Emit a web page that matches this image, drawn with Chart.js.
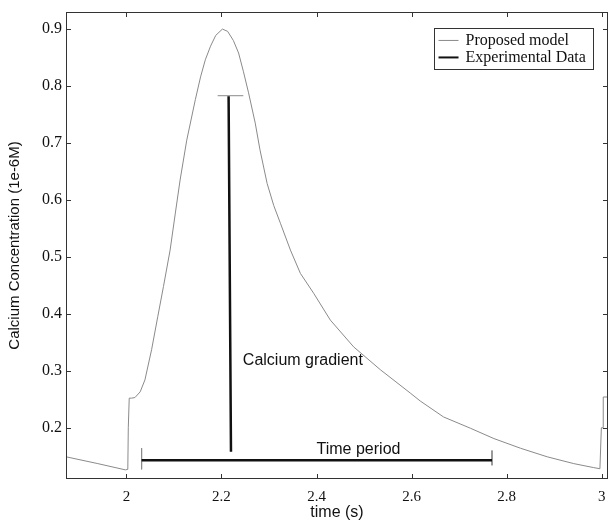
<!DOCTYPE html>
<html>
<head>
<meta charset="utf-8">
<script src="https://cdn.jsdelivr.net/npm/chart.js@4.4.0/dist/chart.umd.min.js"></script>
<style>
  html, body { margin: 0; padding: 0; background: #fff; }
  canvas { display: block; }
</style>
</head>
<body>
<canvas id="myChart" width="613" height="529"></canvas>
<script>
// model curve (time in s, calcium in 1e-6 M)
var modelTime = [1.873, 1.94, 1.998, 2.003, 2.004, 2.006, 2.011, 2.018, 2.029, 2.039, 2.053, 2.066, 2.078,
  2.092, 2.103, 2.113, 2.127, 2.145, 2.156, 2.166, 2.177, 2.188, 2.202, 2.213, 2.225, 2.236, 2.246,
  2.257, 2.271, 2.281, 2.296, 2.310, 2.324, 2.345, 2.366, 2.394, 2.429, 2.478, 2.534, 2.597, 2.618,
  2.667, 2.724, 2.773, 2.829, 2.885, 2.941, 2.983, 2.996, 2.999, 3.003, 3.003, 3.013];
var modelCa = [0.149, 0.137, 0.126, 0.127, 0.200, 0.252, 0.252, 0.253, 0.263, 0.284, 0.337, 0.395, 0.448,
  0.512, 0.577, 0.635, 0.705, 0.776, 0.816, 0.846, 0.870, 0.889, 0.900, 0.896, 0.880, 0.858, 0.826,
  0.788, 0.735, 0.688, 0.629, 0.590, 0.559, 0.512, 0.471, 0.436, 0.389, 0.342, 0.302, 0.261, 0.247,
  0.219, 0.199, 0.181, 0.164, 0.149, 0.137, 0.130, 0.128, 0.200, 0.200, 0.254, 0.254];

// experimental data: calcium gradient (vertical) and time period (horizontal)
var gradientTime = [2.215, 2.220];
var gradientCa = [0.782, 0.158];
var periodTime = [2.032, 2.769];
var periodCa = [0.143, 0.143];

// end marks of the two bars
var capTime = [2.192, 2.246, null, 2.032, 2.032, null, 2.769, 2.769];
var capCa = [0.783, 0.783, null, 0.164, 0.127, null, 0.160, 0.134];

var xTicks = [2, 2.2, 2.4, 2.6, 2.8, 3];
var yTicks = [0.2, 0.3, 0.4, 0.5, 0.6, 0.7, 0.8, 0.9];

function pts(xs, ys) {
  return xs.map(function (x, i) { return { x: x, y: ys[i] }; });
}

var expData = pts(gradientTime, gradientCa).concat([{ x: null, y: null }], pts(periodTime, periodCa));

var sansFont = "'Liberation Sans', Arial, sans-serif";
var serifFont = "'Liberation Serif', 'Times New Roman', serif";

var decorations = {
  id: 'decorations',
  afterDraw: function (chart) {
    var c = chart.ctx, a = chart.chartArea;
    var xs = chart.scales.x, ys = chart.scales.y;
    c.save();
    c.strokeStyle = '#333';
    c.lineWidth = 1;
    c.strokeRect(a.left + 0.5, a.top + 0.5, a.right - a.left - 1, a.bottom - a.top - 1);
    // inward ticks on all sides
    c.beginPath();
    xTicks.forEach(function (v) {
      var px = Math.round(xs.getPixelForValue(v)) + 0.5;
      c.moveTo(px, a.bottom); c.lineTo(px, a.bottom - 5);
      c.moveTo(px, a.top); c.lineTo(px, a.top + 5);
    });
    yTicks.forEach(function (v) {
      var py = Math.round(ys.getPixelForValue(v)) + 0.5;
      c.moveTo(a.left, py); c.lineTo(a.left + 5, py);
      c.moveTo(a.right, py); c.lineTo(a.right - 5, py);
    });
    c.stroke();

    // annotations
    c.fillStyle = '#111';
    c.font = '16px ' + sansFont;
    c.textBaseline = 'middle';
    c.textAlign = 'left';
    c.fillText('Calcium gradient', xs.getPixelForValue(2.245), ys.getPixelForValue(0.318));
    c.fillText('Time period', xs.getPixelForValue(2.400), ys.getPixelForValue(0.161));

    // legend box
    var lx = xs.getPixelForValue(2.646), ly = ys.getPixelForValue(0.902);
    var lw = 159, lh = 41;
    c.fillStyle = '#fff';
    c.fillRect(lx, ly, lw, lh);
    c.strokeStyle = '#333';
    c.strokeRect(Math.round(lx) + 0.5, Math.round(ly) + 0.5, lw, lh);
    var items = [
      { text: 'Proposed model', color: chart.data.datasets[0].borderColor, w: 1 },
      { text: 'Experimental Data', color: chart.data.datasets[1].borderColor, w: 2 }
    ];
    c.font = '16px ' + serifFont;
    items.forEach(function (it, i) {
      var yy = ly + 12.5 + i * 17;
      c.strokeStyle = it.color;
      c.lineWidth = it.w;
      c.beginPath();
      c.moveTo(lx + 5, yy); c.lineTo(lx + 25, yy);
      c.stroke();
      c.fillStyle = '#111';
      c.fillText(it.text, lx + 32, yy);
    });
    c.restore();
  }
};

var ctx = document.getElementById('myChart').getContext('2d');

var myChart = new Chart(ctx, {
  type: 'scatter',
  data: {
    datasets: [{
      label: 'Proposed model',
      data: pts(modelTime, modelCa),
      showLine: true,
      borderColor: '#8a8a8a',
      borderWidth: 1,
      pointRadius: 0,
      tension: 0
    }, {
      label: 'Experimental Data',
      data: expData,
      showLine: true,
      spanGaps: false,
      borderColor: '#111',
      borderWidth: 2.5,
      pointRadius: 0
    }, {
      label: 'ends',
      data: pts(capTime, capCa),
      showLine: true,
      spanGaps: false,
      borderColor: '#8a8a8a',
      borderWidth: 1,
      pointRadius: 0
    }]
  },
  options: {
    responsive: false,
    animation: false,
    devicePixelRatio: 1,
    layout: { padding: { left: 0, right: 5, top: 12, bottom: 0 } },
    plugins: {
      legend: { display: false },
      tooltip: { enabled: false }
    },
    scales: {
      x: {
        type: 'linear',
        min: 1.873,
        max: 3.013,
        afterBuildTicks: function (s) { s.ticks = xTicks.map(function (v) { return { value: v }; }); },
        afterFit: function (s) { s.height = 50; s.paddingLeft = 0; s.paddingRight = 0; },
        grid: { display: false, drawTicks: false },
        border: { display: false },
        ticks: {
          padding: 9,
          color: '#111',
          maxRotation: 0,
          font: { family: serifFont, size: 15 },
          callback: function (v) { return String(+v.toFixed(1)); }
        },
        title: {
          display: true,
          text: 'time (s)',
          color: '#111',
          font: { family: sansFont, size: 16 },
          padding: { top: 7, bottom: 7 }
        }
      },
      y: {
        type: 'linear',
        min: 0.11,
        max: 0.93,
        afterBuildTicks: function (s) { s.ticks = yTicks.map(function (v) { return { value: v }; }); },
        afterFit: function (s) { s.width = 66; s.paddingTop = 0; s.paddingBottom = 0; },
        grid: { display: false, drawTicks: false },
        border: { display: false },
        ticks: {
          padding: 4,
          color: '#111',
          font: { family: serifFont, size: 16 },
          callback: function (v) { return String(+v.toFixed(1)); }
        },
        title: {
          display: true,
          text: 'Calcium Concentration (1e-6M)',
          color: '#111',
          font: { family: sansFont, size: 15 },
          padding: { top: 6, bottom: 6 }
        }
      }
    }
  },
  plugins: [decorations]
});
</script>
</body>
</html>
